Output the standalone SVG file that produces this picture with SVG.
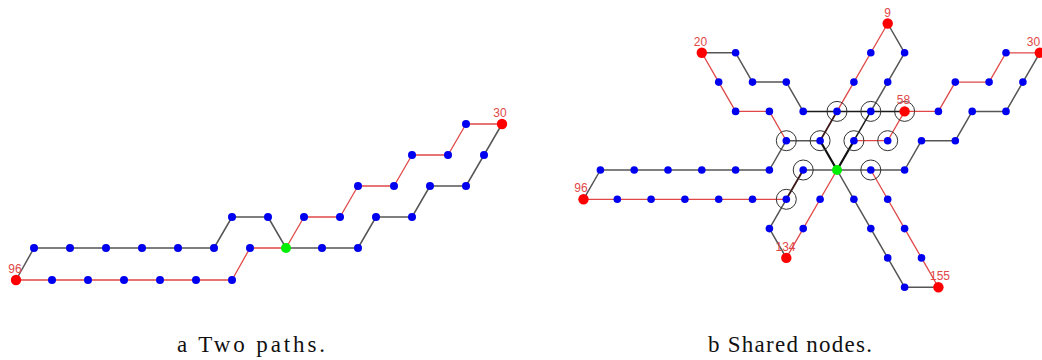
<svg xmlns="http://www.w3.org/2000/svg" width="1042" height="360" viewBox="0 0 1042 360">
<style>
.bg{fill:#ffffff}
.b{fill:#0000f0}
.r{fill:#ff0000}
.g{fill:#00ee00}
.ring{fill:none;stroke:#333;stroke-width:1}
.eb{fill:none;stroke:#555;stroke-width:1.5;stroke-linejoin:round}
.ek{fill:none;stroke:#1a1a1a;stroke-width:1.5;stroke-linejoin:round}
.er{fill:none;stroke:#e04848;stroke-width:1.3;stroke-linejoin:round}
.ed{fill:none;stroke:#3a1616;stroke-width:1.8}
.et{fill:none;stroke:#111;stroke-width:2.2}
.lbl{font-family:"Liberation Sans",Arial,sans-serif;font-size:12px;fill:#e04848;text-anchor:middle}
.cap{font-family:"Liberation Serif","Times New Roman",serif;font-size:23px;fill:#111;text-anchor:middle}
</style>
<rect class="bg" x="0" y="0" width="1042" height="360"/>

<!-- connectors -->
<g id="connectors">
  <!-- left figure -->
  <polyline class="eb" points="16,280 34,248 70,248 106,248 142,248 178,248 214,248 232,217 268,217 286,248 322,248 358,248 376,217 412,217 430,186 466,186 484,155 502,124"/>
  <polyline class="er" points="16,280 52,280 88,280 124,280 160,280 196,280 232,280 250,248 286,248 304,217 340,217 358,186 394,186 412,155 448,155 466,124 502,124"/>
  <!-- right figure: black paths -->
  <polyline class="eb" points="583.5,199.3 600.4,170 634.2,170 668,170 701.8,170 735.6,170 769.4,170 786.3,140.7 820.1,140.7"/>
  <polyline class="eb" points="786.3,257.9 769.4,228.6 786.3,199.3"/>
  <polyline class="eb" points="803.2,170 837,170"/>
  <polyline class="eb" points="701.8,52.8 735.6,52.8 752.5,82.1 786.3,82.1 803.2,111.4"/>
  <polyline class="ek" points="803.2,111.4 837,111.4 870.8,111.4 904.6,111.4"/>
  <polyline class="eb" points="887.7,23.5 904.6,52.8 887.7,82.1 870.8,111.4"/>
  <polyline class="ek" points="870.8,111.4 853.9,140.7"/>
  <polyline class="eb" points="1039.8,52.8 1022.9,82.1 1006,111.4 972.2,111.4 955.3,140.7 921.5,140.7 904.6,170 870.8,170 837,170"/>
  <polyline class="eb" points="837,170 853.9,199.3 870.8,228.6 887.7,257.9 904.6,287.2 938.4,287.2"/>
  <!-- right figure: red paths -->
  <polyline class="er" points="583.5,199.3 617.3,199.3 651.1,199.3 684.9,199.3 718.7,199.3 752.5,199.3 786.3,199.3"/>
  <polyline class="er" points="786.3,257.9 803.2,228.6 820.1,199.3 837,170"/>
  <polyline class="er" points="701.8,52.8 718.7,82.1 735.6,111.4 769.4,111.4 786.3,140.7"/>
  <polyline class="er" points="887.7,23.5 870.8,52.8 853.9,82.1 837,111.4"/>
  <polyline class="er" points="1039.8,52.8 1006,52.8 989.1,82.1 955.3,82.1 938.4,111.4 904.6,111.4 887.7,140.7 853.9,140.7"/>
  <polyline class="er" points="938.4,287.2 921.5,257.9 904.6,228.6 887.7,199.3 870.8,170"/>
  <!-- overlapping segments -->
  <line class="ed" x1="786.3" y1="199.3" x2="803.2" y2="170"/>
  <line class="ed" x1="837" y1="111.4" x2="820.1" y2="140.7"/>
  <polyline class="et" points="820.1,140.7 837,170 853.9,140.7"/>
</g>

<!-- left figure nodes -->
<g id="a-96"><circle class="r" cx="16" cy="280" r="5.2"/><text class="lbl" x="15" y="273">96</text></g>
<g id="a-n1"><circle class="b" cx="52" cy="280" r="4"/></g>
<g id="a-n2"><circle class="b" cx="88" cy="280" r="4"/></g>
<g id="a-n3"><circle class="b" cx="124" cy="280" r="4"/></g>
<g id="a-n4"><circle class="b" cx="160" cy="280" r="4"/></g>
<g id="a-n5"><circle class="b" cx="196" cy="280" r="4"/></g>
<g id="a-n6"><circle class="b" cx="232" cy="280" r="4"/></g>
<g id="a-n7"><circle class="b" cx="34" cy="248" r="4"/></g>
<g id="a-n8"><circle class="b" cx="70" cy="248" r="4"/></g>
<g id="a-n9"><circle class="b" cx="106" cy="248" r="4"/></g>
<g id="a-n10"><circle class="b" cx="142" cy="248" r="4"/></g>
<g id="a-n11"><circle class="b" cx="178" cy="248" r="4"/></g>
<g id="a-n12"><circle class="b" cx="214" cy="248" r="4"/></g>
<g id="a-n13"><circle class="b" cx="250" cy="248" r="4"/></g>
<g id="a-center"><circle class="g" cx="286" cy="248" r="5"/></g>
<g id="a-n14"><circle class="b" cx="322" cy="248" r="4"/></g>
<g id="a-n15"><circle class="b" cx="358" cy="248" r="4"/></g>
<g id="a-n16"><circle class="b" cx="232" cy="217" r="4"/></g>
<g id="a-n17"><circle class="b" cx="268" cy="217" r="4"/></g>
<g id="a-n18"><circle class="b" cx="304" cy="217" r="4"/></g>
<g id="a-n19"><circle class="b" cx="340" cy="217" r="4"/></g>
<g id="a-n20"><circle class="b" cx="376" cy="217" r="4"/></g>
<g id="a-n21"><circle class="b" cx="412" cy="217" r="4"/></g>
<g id="a-n22"><circle class="b" cx="358" cy="186" r="4"/></g>
<g id="a-n23"><circle class="b" cx="394" cy="186" r="4"/></g>
<g id="a-n24"><circle class="b" cx="430" cy="186" r="4"/></g>
<g id="a-n25"><circle class="b" cx="466" cy="186" r="4"/></g>
<g id="a-n26"><circle class="b" cx="412" cy="155" r="4"/></g>
<g id="a-n27"><circle class="b" cx="448" cy="155" r="4"/></g>
<g id="a-n28"><circle class="b" cx="484" cy="155" r="4"/></g>
<g id="a-n29"><circle class="b" cx="466" cy="124" r="4"/></g>
<g id="a-30"><circle class="r" cx="502" cy="124" r="5.2"/><text class="lbl" x="500" y="117">30</text></g>

<!-- right figure nodes -->
<g id="b-9"><circle class="r" cx="887.7" cy="23.5" r="5.2"/><text class="lbl" x="887.7" y="17">9</text></g>
<g id="b-20"><circle class="r" cx="701.8" cy="52.8" r="5.2"/><text class="lbl" x="700.5" y="46">20</text></g>
<g id="b-n1"><circle class="b" cx="735.6" cy="52.8" r="3.8"/></g>
<g id="b-n2"><circle class="b" cx="870.8" cy="52.8" r="3.8"/></g>
<g id="b-n3"><circle class="b" cx="904.6" cy="52.8" r="3.8"/></g>
<g id="b-n4"><circle class="b" cx="1006" cy="52.8" r="3.8"/></g>
<g id="b-30"><circle class="r" cx="1039.8" cy="52.8" r="5.2"/><text class="lbl" x="1033.5" y="46">30</text></g>
<g id="b-n5"><circle class="b" cx="718.7" cy="82.1" r="3.8"/></g>
<g id="b-n6"><circle class="b" cx="752.5" cy="82.1" r="3.8"/></g>
<g id="b-n7"><circle class="b" cx="786.3" cy="82.1" r="3.8"/></g>
<g id="b-n8"><circle class="b" cx="853.9" cy="82.1" r="3.8"/></g>
<g id="b-n9"><circle class="b" cx="887.7" cy="82.1" r="3.8"/></g>
<g id="b-n10"><circle class="b" cx="955.3" cy="82.1" r="3.8"/></g>
<g id="b-n11"><circle class="b" cx="989.1" cy="82.1" r="3.8"/></g>
<g id="b-n12"><circle class="b" cx="1022.9" cy="82.1" r="3.8"/></g>
<g id="b-n13"><circle class="b" cx="735.6" cy="111.4" r="3.8"/></g>
<g id="b-n14"><circle class="b" cx="769.4" cy="111.4" r="3.8"/></g>
<g id="b-n15"><circle class="b" cx="803.2" cy="111.4" r="3.8"/></g>
<g id="b-s1"><circle class="b" cx="837" cy="111.4" r="3.8"/><circle class="ring" cx="837" cy="111.4" r="10"/></g>
<g id="b-s2"><circle class="b" cx="870.8" cy="111.4" r="3.8"/><circle class="ring" cx="870.8" cy="111.4" r="10"/></g>
<g id="b-58"><circle class="r" cx="904.6" cy="111.4" r="5.2"/><circle class="ring" cx="904.6" cy="111.4" r="10"/><text class="lbl" x="903.5" y="104">58</text></g>
<g id="b-n16"><circle class="b" cx="938.4" cy="111.4" r="3.8"/></g>
<g id="b-n17"><circle class="b" cx="972.2" cy="111.4" r="3.8"/></g>
<g id="b-n18"><circle class="b" cx="1006" cy="111.4" r="3.8"/></g>
<g id="b-s3"><circle class="b" cx="786.3" cy="140.7" r="3.8"/><circle class="ring" cx="786.3" cy="140.7" r="10"/></g>
<g id="b-s4"><circle class="b" cx="820.1" cy="140.7" r="3.8"/><circle class="ring" cx="820.1" cy="140.7" r="10"/></g>
<g id="b-s5"><circle class="b" cx="853.9" cy="140.7" r="3.8"/><circle class="ring" cx="853.9" cy="140.7" r="10"/></g>
<g id="b-s6"><circle class="b" cx="887.7" cy="140.7" r="3.8"/><circle class="ring" cx="887.7" cy="140.7" r="10"/></g>
<g id="b-n19"><circle class="b" cx="921.5" cy="140.7" r="3.8"/></g>
<g id="b-n20"><circle class="b" cx="955.3" cy="140.7" r="3.8"/></g>
<g id="b-n21"><circle class="b" cx="600.4" cy="170" r="3.8"/></g>
<g id="b-n22"><circle class="b" cx="634.2" cy="170" r="3.8"/></g>
<g id="b-n23"><circle class="b" cx="668" cy="170" r="3.8"/></g>
<g id="b-n24"><circle class="b" cx="701.8" cy="170" r="3.8"/></g>
<g id="b-n25"><circle class="b" cx="735.6" cy="170" r="3.8"/></g>
<g id="b-n26"><circle class="b" cx="769.4" cy="170" r="3.8"/></g>
<g id="b-s7"><circle class="b" cx="803.2" cy="170" r="3.8"/><circle class="ring" cx="803.2" cy="170" r="10"/></g>
<g id="b-center"><circle class="g" cx="837" cy="170" r="5"/></g>
<g id="b-s8"><circle class="b" cx="870.8" cy="170" r="3.8"/><circle class="ring" cx="870.8" cy="170" r="10"/></g>
<g id="b-n27"><circle class="b" cx="904.6" cy="170" r="3.8"/></g>
<g id="b-96"><circle class="r" cx="583.5" cy="199.3" r="5.2"/><text class="lbl" x="581" y="192">96</text></g>
<g id="b-n28"><circle class="b" cx="617.3" cy="199.3" r="3.8"/></g>
<g id="b-n29"><circle class="b" cx="651.1" cy="199.3" r="3.8"/></g>
<g id="b-n30"><circle class="b" cx="684.9" cy="199.3" r="3.8"/></g>
<g id="b-n31"><circle class="b" cx="718.7" cy="199.3" r="3.8"/></g>
<g id="b-n32"><circle class="b" cx="752.5" cy="199.3" r="3.8"/></g>
<g id="b-s9"><circle class="b" cx="786.3" cy="199.3" r="3.8"/><circle class="ring" cx="786.3" cy="199.3" r="10"/></g>
<g id="b-n33"><circle class="b" cx="820.1" cy="199.3" r="3.8"/></g>
<g id="b-n34"><circle class="b" cx="853.9" cy="199.3" r="3.8"/></g>
<g id="b-n35"><circle class="b" cx="887.7" cy="199.3" r="3.8"/></g>
<g id="b-n36"><circle class="b" cx="769.4" cy="228.6" r="3.8"/></g>
<g id="b-n37"><circle class="b" cx="803.2" cy="228.6" r="3.8"/></g>
<g id="b-n38"><circle class="b" cx="870.8" cy="228.6" r="3.8"/></g>
<g id="b-n39"><circle class="b" cx="904.6" cy="228.6" r="3.8"/></g>
<g id="b-134"><circle class="r" cx="786.3" cy="257.9" r="5.2"/><text class="lbl" x="785.5" y="251">134</text></g>
<g id="b-n40"><circle class="b" cx="887.7" cy="257.9" r="3.8"/></g>
<g id="b-n41"><circle class="b" cx="921.5" cy="257.9" r="3.8"/></g>
<g id="b-n42"><circle class="b" cx="904.6" cy="287.2" r="3.8"/></g>
<g id="b-155"><circle class="r" cx="938.4" cy="287.2" r="5.2"/><text class="lbl" x="940" y="280">155</text></g>

<!-- captions -->
<text class="cap" x="251" y="352" textLength="148" lengthAdjust="spacing">a Two paths.</text>
<text class="cap" x="790" y="352" textLength="164" lengthAdjust="spacing">b Shared nodes.</text>
</svg>
